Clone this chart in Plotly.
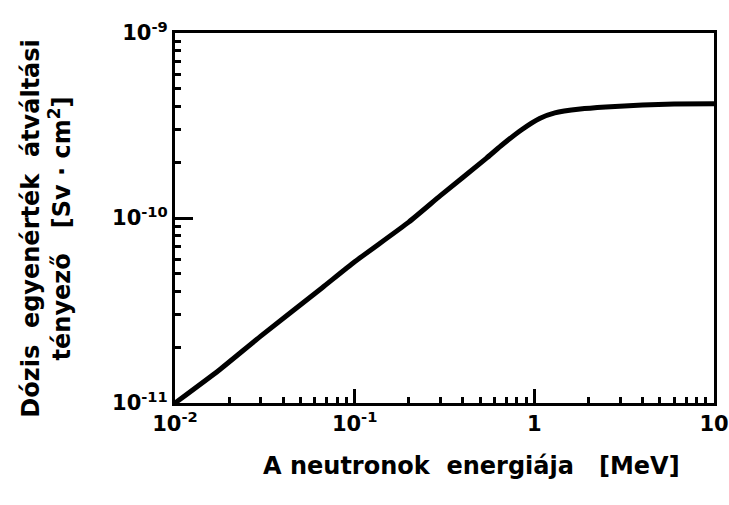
import plotly.graph_objects as go

# Data (neutron energy in MeV, conversion factor in Sv·cm²)
energy_mev = [0.01, 0.0175, 0.03, 0.066, 0.1, 0.2, 0.3, 0.54, 0.65, 0.85, 1.07, 1.3, 1.8, 2.5, 4.0, 6.0, 10.0]
dose_factor = [1.0e-11, 1.5e-11, 2.3e-11, 4.2e-11, 5.8e-11, 9.5e-11, 1.32e-10, 2.1e-10, 2.45e-10, 3.0e-10,
               3.45e-10, 3.7e-10, 3.88e-10, 3.98e-10, 4.08e-10, 4.13e-10, 4.15e-10]

x_ticks = [0.01, 0.1, 1, 10]
x_ticktext = ["10<sup>-2</sup>", "10<sup>-1</sup>", "1", "10"]
y_ticks = [1e-11, 1e-10, 1e-9]
y_ticktext = ["10<sup>-11</sup>", "10<sup>-10</sup>", "10<sup>-9</sup>"]

x_minor = [m * 10.0 ** e for e in (-2, -1, 0) for m in range(2, 10)]
y_minor = [m * 10.0 ** e for e in (-11, -10) for m in range(2, 10)]

font_family = "DejaVu Sans"
tick_font = dict(size=21, family=font_family, color="black", weight="bold")

fig = go.Figure()
fig.add_trace(go.Scatter(
    x=energy_mev, y=dose_factor, mode="lines",
    line=dict(color="black", width=5, shape="spline", smoothing=0.5),
    showlegend=False, hoverinfo="skip",
))
# invisible trace so the overlaid minor-tick axes are drawn
fig.add_trace(go.Scatter(
    x=[energy_mev[0]], y=[dose_factor[0]], xaxis="x2", yaxis="y2",
    mode="markers", marker=dict(opacity=0), showlegend=False, hoverinfo="skip",
))

axis_common = dict(type="log", showgrid=False, zeroline=False, tickcolor="black", automargin=False)

fig.update_layout(
    width=729, height=505,
    margin=dict(l=175, r=15, t=33, b=102, autoexpand=False),
    paper_bgcolor="white", plot_bgcolor="white",
    font=dict(family=font_family, color="black", size=20),
    xaxis=dict(
        **axis_common, range=[-2, 1],
        tickmode="array", tickvals=x_ticks, ticktext=x_ticktext,
        ticks="inside", ticklen=14, tickwidth=2.5,
        showline=True, linecolor="black", linewidth=3, mirror=True,
        tickfont=tick_font,
    ),
    yaxis=dict(
        **axis_common, range=[-11, -9],
        tickmode="array", tickvals=y_ticks, ticktext=y_ticktext,
        ticks="inside", ticklen=18, tickwidth=2.5,
        showline=True, linecolor="black", linewidth=3, mirror=True,
        tickfont=tick_font,
    ),
    xaxis2=dict(
        **axis_common, range=[-2, 1], overlaying="x", anchor="y", side="bottom",
        tickmode="array", tickvals=x_minor, ticktext=[""] * len(x_minor),
        ticks="inside", ticklen=6, tickwidth=2.5, showline=False,
    ),
    yaxis2=dict(
        **axis_common, range=[-11, -9], overlaying="y", anchor="x", side="left",
        tickmode="array", tickvals=y_minor, ticktext=[""] * len(y_minor),
        ticks="inside", ticklen=6, tickwidth=2.5, showline=False,
    ),
    annotations=[
        dict(text="A neutronok  energiája   [MeV]", xref="paper", yref="paper",
             x=0.551, y=-0.170, xanchor="center", yanchor="middle", showarrow=False,
             font=dict(size=24, family=font_family, color="black", weight="bold")),
        dict(text="Dózis  egyenérték  átváltási<br>tényező   [Sv · cm<sup>2</sup>]",
             xref="paper", yref="paper", x=-0.238, y=0.473, xanchor="center", yanchor="middle",
             textangle=-90, showarrow=False,
             font=dict(size=24, family=font_family, color="black", weight="bold")),
    ],
)

fig.write_html(
    "out.html",
    config={"displayModeBar": False, "responsive": False},
    post_script="document.body.style.margin='0';document.body.style.overflow='hidden';",
)
